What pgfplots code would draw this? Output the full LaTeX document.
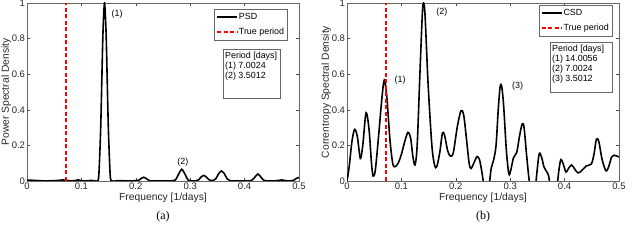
\documentclass[border=0pt]{standalone}
\usepackage{pgfplots}
\pgfplotsset{compat=1.18}
\usepackage{fontspec}
\setmainfont{Liberation Sans}
\newfontfamily\serifcap{Liberation Serif}
\pgfplotsset{legend image code/.code={\draw[#1] (0pt,0pt) -- (20pt,0pt);}}
\begin{document}
\begin{tikzpicture}[x=1pt,y=1pt]
\path[use as bounding box] (0,0) rectangle (640,243);
\pgfplotsset{
  every axis/.append style={
    scale only axis, width=272pt, height=178pt,
    xmin=0, xmax=0.5, ymin=0, ymax=1,
    xtick={0,0.1,...,0.5}, ytick={0,0.2,...,1},
    xticklabels={0,0.1,0.2,0.3,0.4,0.5},
    yticklabels={0,0.2,0.4,0.6,0.8,1},
    tick align=inside, major tick length=3pt,
    tick style={black!70, line width=0.4pt},
    axis line style={black!60, line width=0.5pt},
    tick label style={font=\fontsize{9.5}{10}\selectfont, text=black!85},
    label style={font=\fontsize{10.3}{11}\selectfont, text=black!85},
    xlabel={Frequency [1/days]},
    xlabel style={yshift=4pt},
    ylabel style={yshift=-6pt},
    xticklabel style={yshift=1.5pt},
    yticklabel style={xshift=1.5pt},
    clip=true,
    legend cell align=left,
    legend style={font=\fontsize{8.9}{10}\selectfont, draw=black!60, inner xsep=2pt, inner ysep=3.5pt, row sep=6pt, nodes={inner xsep=1pt, inner ysep=0.5pt}},
  }
}
% ---------------- (a) ----------------
\begin{axis}[at={(27pt,62pt)}, anchor=south west,
  ylabel={Power Spectral Density},
  legend style={at={(rel axis cs:0.957,0.966)}, anchor=north east}]
\addplot[black, line width=1.6pt, smooth, tension=0.4] coordinates {
(0,0.005) (0.01,0.004) (0.02,0.002) (0.03,0.001) (0.04,0.001) (0.05,0.002) (0.06,0.004) (0.066,0.006) (0.072,0.004) (0.08,0.001) (0.088,0.002) (0.094,0.006) (0.1,0.002) (0.106,0.0) (0.112,0.002) (0.118,0.003) (0.124,0.001)
(0.129,0.0) (0.132,0.03) (0.1355,0.3) (0.1395,0.82) (0.1425,1.0) (0.1455,0.82) (0.1495,0.3) (0.153,0.03) (0.156,0.0)
(0.165,0.001) (0.175,0.002) (0.185,0.0) (0.195,0.001) (0.205,0.004) (0.209,0.012) (0.2145,0.021) (0.22,0.012) (0.225,0.002) (0.235,0.0) (0.245,0.001) (0.255,0.0) (0.265,0.001) (0.273,0.006)
(0.278,0.035) (0.2845,0.066) (0.291,0.035) (0.296,0.006) (0.303,0.0) (0.31,0.001) (0.316,0.008) (0.3205,0.024) (0.3255,0.031) (0.331,0.018) (0.336,0.004) (0.342,0.003) (0.347,0.012)
(0.352,0.04) (0.3575,0.056) (0.363,0.04) (0.368,0.012) (0.374,0.001) (0.385,0.0) (0.395,0.001) (0.405,0.0) (0.412,0.002) (0.417,0.015) (0.4245,0.039) (0.431,0.018) (0.436,0.003) (0.445,0.0) (0.455,0.001) (0.462,0.003) (0.468,0.006) (0.474,0.003) (0.482,0.0) (0.49,0.004) (0.495,0.014) (0.5,0.02)
};
\addlegendentry{PSD}
\addplot[draw=red, line width=1.6pt, dash pattern=on 4pt off 2.5pt] coordinates {(0.0714,0) (0.0714,1)};
\addlegendentry{True period}
\node[font=\fontsize{8.9}{9}\selectfont, anchor=west] at (axis cs:0.149,0.935) {(1)};
\node[font=\fontsize{8.9}{9}\selectfont] at (axis cs:0.2865,0.105) {(2)};
\node[draw=black!60, line width=0.4pt, anchor=north east, minimum width=57pt, minimum height=49pt, inner sep=2pt] at (rel axis cs:0.93,0.742) {};
\node[anchor=north west, align=left, inner sep=0pt, font=\fontsize{8.9}{10}\selectfont] at ([xshift=-55pt,yshift=-3pt]rel axis cs:0.93,0.742) {Period [days]\\(1) 7.0024\\(2) 3.5012};
\end{axis}
% ---------------- (b) ----------------
\begin{axis}[at={(347pt,62pt)}, anchor=south west,
  ylabel={Correntropy Spectral Density},
  legend style={at={(rel axis cs:0.974,0.988)}, anchor=north east}]
\addplot[black, line width=1.6pt, smooth, tension=0.5] coordinates {
(0,0.0) (0.004,0.08) (0.009,0.22) (0.014,0.29) (0.019,0.25) (0.0245,0.127) (0.029,0.2) (0.035,0.383) (0.0405,0.29) (0.045,0.1) (0.048,0.028) (0.052,0.06) (0.058,0.25) (0.064,0.46) (0.0685,0.566) (0.073,0.48) (0.079,0.23) (0.084,0.1) (0.088,0.08) (0.094,0.1)
(0.1,0.15) (0.106,0.22) (0.112,0.273) (0.117,0.24) (0.121,0.14) (0.125,0.09) (0.129,0.2) (0.134,0.6) (0.1385,0.94) (0.1408,1.0) (0.1435,0.93) (0.149,0.55) (0.156,0.2) (0.161,0.09) (0.165,0.08) (0.1705,0.16) (0.1755,0.27) (0.1795,0.255) (0.185,0.17) (0.19,0.14)
(0.1955,0.16) (0.2025,0.3) (0.2095,0.395) (0.2145,0.37) (0.2195,0.24) (0.2245,0.1) (0.228,0.07) (0.233,0.1) (0.239,0.137) (0.2435,0.12) (0.248,0.05) (0.252,-0.03) (0.257,-0.08) (0.2615,-0.02) (0.265,0.07) (0.2695,0.118) (0.274,0.2) (0.278,0.4) (0.2815,0.53) (0.2845,0.53) (0.288,0.42) (0.293,0.17)
(0.2975,0.04) (0.301,0.06) (0.306,0.13) (0.312,0.16) (0.317,0.25) (0.322,0.32) (0.3255,0.3) (0.33,0.15) (0.335,0.0) (0.34,-0.09) (0.346,-0.04) (0.3495,0.06) (0.3535,0.155) (0.358,0.13) (0.362,0.08) (0.3665,0.055) (0.3705,0.03) (0.3745,-0.05) (0.38,-0.12) (0.386,-0.03)
(0.3895,0.06) (0.393,0.12) (0.397,0.1) (0.4025,0.05) (0.407,0.07) (0.413,0.09) (0.419,0.065) (0.425,0.045) (0.432,0.06) (0.44,0.085) (0.449,0.095) (0.454,0.15) (0.4585,0.235) (0.463,0.22) (0.469,0.12) (0.476,0.057) (0.481,0.08) (0.4865,0.135) (0.491,0.145) (0.496,0.14) (0.5,0.135)
};
\addlegendentry{CSD}
\addplot[draw=red, line width=1.6pt, dash pattern=on 4pt off 2.5pt] coordinates {(0.0714,0) (0.0714,1)};
\addlegendentry{True period}
\node[font=\fontsize{8.9}{9}\selectfont, anchor=west] at (axis cs:0.081,0.566) {(1)};
\node[font=\fontsize{8.9}{9}\selectfont, anchor=west] at (axis cs:0.158,0.95) {(2)};
\node[font=\fontsize{8.9}{9}\selectfont, anchor=west] at (axis cs:0.297,0.535) {(3)};
\node[draw=black!60, line width=0.4pt, anchor=north east, minimum width=62pt, minimum height=50pt, inner sep=2pt] at (rel axis cs:0.974,0.78) {};
\node[anchor=north west, align=left, inner sep=0pt, font=\fontsize{8.9}{10}\selectfont] at ([xshift=-60pt,yshift=-3pt]rel axis cs:0.974,0.78) {Period [days]\\(1) 14.0056\\(2) 7.0024\\(3) 3.5012};
\end{axis}
\node[font=\serifcap\fontsize{12}{13}\selectfont] at (163,26) {(a)};
\node[font=\serifcap\fontsize{12}{13}\selectfont] at (483,26) {(b)};
\end{tikzpicture}
\end{document}
